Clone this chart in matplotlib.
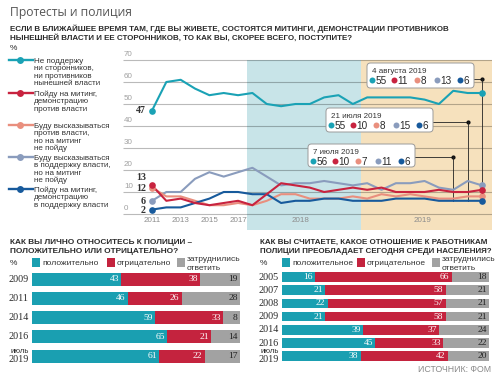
import matplotlib
matplotlib.use('Agg')
import matplotlib.pyplot as plt
from matplotlib.transforms import Affine2D
from matplotlib.patches import FancyBboxPatch, Rectangle
from matplotlib.lines import Line2D
from matplotlib import font_manager

# ---------------- data ----------------
legend_labels = [
    ["Не поддержу", "ни сторонников,", "ни противников", "нынешней власти"],
    ["Пойду на митинг,", "демонстрацию", "против власти"],
    ["Буду высказываться", "против власти,", "но на митинг", "не пойду"],
    ["Буду высказываться", "в поддержку власти,", "но на митинг", "не пойду"],
    ["Пойду на митинг,", "демонстрацию", "в поддержку власти"],
]
neutral       = [47, 60, 61, 57, 54, 55, 54, 55, 50, 49, 50, 50, 53, 54, 50, 53, 53, 53, 53, 52, 50, 56, 55, 55]
against_rally = [13, 6, 7, 5, 4, 5, 6, 4, 9, 14, 13, 12, 10, 11, 12, 11, 12, 10, 10, 10, 11, 10, 10, 11]
against_words = [12, 8, 8, 6, 4, 4, 5, 4, 6, 9, 9, 7, 7, 7, 8, 7, 9, 8, 9, 8, 7, 7, 8, 8]
support_words = [6, 10, 10, 16, 19, 17, 19, 21, 17, 13, 14, 14, 15, 14, 13, 14, 11, 14, 14, 15, 12, 11, 15, 13]
support_rally = [2, 3, 3, 5, 7, 10, 10, 9, 9, 5, 6, 6, 7, 7, 6, 6, 6, 7, 7, 7, 6, 6, 6, 6]
year_tick_idx = [0, 2, 4, 6]
year_tick_labels = ["2011", "2013", "2015", "2017"]
period_labels = ["2018", "2019"]
y_ticks = [0, 10, 20, 30, 40, 50, 60, 70]

note_dates = ["7 июля 2019", "21 июля 2019", "4 августа 2019"]

pol_years = ["2009", "2011", "2014", "2016", "июль\n2019"]
pol_pos = [43, 46, 59, 65, 61]
pol_neg = [38, 26, 33, 21, 22]
pol_unk = [19, 28, 8, 14, 17]

pop_years = ["2005", "2007", "2008", "2009", "2014", "2016", "июль\n2019"]
pop_pos = [16, 21, 22, 21, 39, 45, 38]
pop_neg = [66, 58, 57, 58, 37, 33, 42]
pop_unk = [18, 21, 21, 21, 24, 22, 20]

# ---------------- style ----------------
TEAL = "#1aa2b5"
RED = "#c8233f"
SALMON = "#e98f7e"
GREYBLUE = "#8a9cbd"
DARKBLUE = "#175a9c"
BAR_TEAL = "#1a9fb1"
BAR_RED = "#c4233e"
BAR_GRAY = "#a2a2a2"
SHADE_2018 = "#c8e4e8"
SHADE_2019 = "#f6e1bd"
TXT = "#2b2b2b"


def have(fam):
    try:
        font_manager.findfont(font_manager.FontProperties(family=fam), fallback_to_default=False)
        return True
    except Exception:
        return False


NARROW = "Liberation Sans Narrow" if have("Liberation Sans Narrow") else "Liberation Sans"
SANS = "Liberation Sans"
SERIF = "Liberation Serif"
LIGHT = "Open Sans" if have("Open Sans") else "DejaVu Sans"

W, H = 502, 380
fig = plt.figure(figsize=(W / 100, H / 100), dpi=100)
fig.patch.set_facecolor("white")
PX = Affine2D().scale(1 / W, -1 / H).translate(0, 1) + fig.transFigure
renderer = fig.canvas.get_renderer()


def rect(x0, y0, x1, y1):
    return [x0 / W, 1 - y1 / H, (x1 - x0) / W, (y1 - y0) / H]


def txt(x, y, s, size, color=TXT, ha="left", family=SANS, weight="normal", width=None, **kw):
    """y = visual centre of capitals (pixels from top)."""
    yb = y + 0.36 * size * 100 / 72
    t = fig.text(x, yb, s, transform=PX, fontsize=size, color=color, ha=ha, va="baseline",
                 family=family, fontweight=weight, **kw)
    if width is not None:
        w = t.get_window_extent(renderer).width
        size = size * width / w
        t.set_fontsize(size)
        t.set_y(y + 0.36 * size * 100 / 72)
    return t


# ---------------- headers ----------------
txt(10, 12, "Протесты и полиция", 9, color="#555555", family=LIGHT, width=123)
t1 = txt(10, 28.5, "ЕСЛИ В БЛИЖАЙШЕЕ ВРЕМЯ ТАМ, ГДЕ ВЫ ЖИВЕТЕ, СОСТОЯТСЯ МИТИНГИ, ДЕМОНСТРАЦИИ ПРОТИВНИКОВ",
         6, family=NARROW, weight="bold", width=442)
fs_sub = t1.get_fontsize()
txt(10, 36.5, "НЫНЕШНЕЙ ВЛАСТИ И ЕЕ СТОРОННИКОВ, ТО КАК ВЫ, СКОРЕЕ ВСЕГО, ПОСТУПИТЕ?", fs_sub,
    family=NARROW, weight="bold")
txt(10, 47, "%", 6, family=SANS)

# ---------------- line chart ----------------
ax = fig.add_axes(rect(123, 214 - 70.5 * 2.2, 492, 230.06))
ax.set_xlim(-2.02, 23.7)
ax.set_ylim(-7.3, 70.5)
ax.axis("off")

p2018, p2019 = 6.6, 14.56
ax.add_patch(Rectangle((p2018, -7.3), p2019 - p2018, 77.3, fc=SHADE_2018, ec="none", zorder=0))
ax.add_patch(Rectangle((p2019, -7.3), 23.7 - p2019, 77.3, fc=SHADE_2019, ec="none", zorder=0))
ax.hlines(y_ticks, -2.02, 23.7, color="black", alpha=0.27, lw=0.8, zorder=1)
for v in y_ticks:
    ax.text(-1.95, v + 0.7, str(v), ha="left", va="bottom", fontsize=5.8, color="#a0a0a0",
            family=NARROW, zorder=2)
for i, lab in zip(year_tick_idx, year_tick_labels):
    ax.text(i, -2.9, lab, ha="center", va="center", fontsize=5.8, color="#8c8c8c", family=NARROW)
ax.text((p2018 + p2019) / 2 - 0.25, -2.9, period_labels[0], ha="center", va="center",
        fontsize=5.8, color="#8c8c8c", family=NARROW)
ax.text((p2019 + 23.7) / 2 - 0.3, -2.9, period_labels[1], ha="center", va="center",
        fontsize=5.8, color="#8c8c8c", family=NARROW)

series = [
    (support_words, GREYBLUE),
    (against_words, SALMON),
    (support_rally, DARKBLUE),
    (against_rally, RED),
    (neutral, TEAL),
]
xs = list(range(len(neutral)))
for vals, col in series:
    ax.plot(xs, vals, color=col, lw=1.5, solid_joinstyle="round", zorder=3)
    ax.plot([xs[0]], [vals[0]], "o", color=col, ms=4.8, mec="none", zorder=4)
    ax.plot([xs[-1]], [vals[-1]], "o", color=col, ms=4.8, mec="none", zorder=4)

# start labels
start_lab = [(neutral[0], 0.0), (against_rally[0], 3.8), (against_words[0], -0.6),
             (support_words[0], -0.5), (support_rally[0], -0.6)]
for v, dy in start_lab:
    ax.text(-0.42, v + dy, str(v), ha="right", va="center", fontsize=7.2, fontweight="bold",
            color="#333333", family=SERIF, zorder=5)

# ---------------- notes ----------------
inv = ax.transData.inverted()


def px2data(x, y):
    return inv.transform((x, H - y))


note_boxes = [  # x0, y0, x1, y1, connector y
    (308, 144, 415, 167, 157),
    (326, 108, 433, 132, 122),
    (367, 63, 474, 88, 79),
]
cols5 = [TEAL, RED, SALMON, GREYBLUE, DARKBLUE]
all_series = [neutral, against_rally, against_words, support_words, support_rally]
dot_offsets = [5, 27, 50, 70, 93]
n = len(neutral)
for k, (date, (x0, y0, x1, y1, yc)) in enumerate(zip(note_dates, note_boxes)):
    idx = n - 3 + k
    box = FancyBboxPatch((x0, y0), x1 - x0, y1 - y0, boxstyle="round,pad=0,rounding_size=3.5",
                         transform=PX, fc="white", ec="#9b9b9b", lw=0.7, zorder=6)
    fig.add_artist(box)
    txt(x0 + 5, y0 + 7, date, 5.8, color="#333333", family=SANS, zorder=7)
    for off, col, s in zip(dot_offsets, cols5, all_series):
        fig.add_artist(Line2D([x0 + off], [y0 + 17], transform=PX, marker="o", ms=4.3, color=col,
                              mec="none", zorder=7))
        txt(x0 + off + 3.5, y0 + 17, str(s[idx]), 7.2, color="#2a2a2a", family=NARROW, zorder=7)
    # connector
    bx, byc = px2data(x1, yc)
    ax.plot([bx, idx], [byc, byc], color="#222222", lw=0.6, zorder=2)
    ax.plot([idx], [byc], "o", color="#111111", ms=2.0, zorder=2)
    ax.plot([idx, idx], [min(v[idx] for v in all_series), byc], color="#222222", lw=0.6, zorder=2)

# ---------------- left legend ----------------
leg_y = [60, 93, 125, 157, 189]
leg_cols = [TEAL, RED, SALMON, GREYBLUE, DARKBLUE]
for lines, y, col in zip(legend_labels, leg_y, leg_cols):
    fig.add_artist(Line2D([9, 33], [y, y], transform=PX, color=col, lw=1.7))
    fig.add_artist(Line2D([20], [y], transform=PX, color=col, marker="o", ms=5.0, mec="none"))
    for j, s in enumerate(lines):
        txt(34, y + j * 7.4, s, 5.75, color="#333333", family=SANS)


# ---------------- bar charts ----------------
def bar_panel(x0, x1, y_first, spacing, height_px, years, pos, neg, unk, tx, title, leg_names, leg_x):
    nrow = len(years)
    top = y_first - spacing / 2
    bottom = y_first + (nrow - 0.5) * spacing
    a = fig.add_axes(rect(x0, top, x1, bottom))
    a.set_xlim(0, 100)
    a.set_ylim(nrow - 0.5, -0.5)
    a.axis("off")
    idx = list(range(nrow))
    hh = height_px / spacing
    left2 = [p + q for p, q in zip(pos, neg)]
    a.barh(idx, pos, height=hh, color=BAR_TEAL, lw=0)
    a.barh(idx, neg, left=pos, height=hh, color=BAR_RED, lw=0)
    a.barh(idx, unk, left=left2, height=hh, color=BAR_GRAY, lw=0)
    upx = 100 / (x1 - x0)
    for i in idx:
        a.text(pos[i] - 2.2 * upx, i, str(pos[i]), ha="right", va="center", color="white",
               fontsize=6.8, family=SERIF)
        a.text(left2[i] - 2.2 * upx, i, str(neg[i]), ha="right", va="center", color="white",
               fontsize=6.8, family=SERIF)
        a.text(100 - 2.2 * upx, i, str(unk[i]), ha="right", va="center", color="#222222",
               fontsize=6.8, family=SERIF)
        ylab = years[i]
        if "\n" in ylab:
            w1, w2 = ylab.split("\n")
            a.text(-3 * upx, i - 4.5 / spacing, w1, ha="right", va="center", fontsize=5.6,
                   family=SANS, color=TXT)
            a.text(-3 * upx, i + 3.5 / spacing, w2, ha="right", va="center", fontsize=7.3,
                   family=SERIF, color=TXT)
        else:
            a.text(-3 * upx, i, ylab, ha="right", va="center", fontsize=7.3, family=SERIF, color=TXT)
    # title
    t = txt(tx, 241, title[0], 6.5, family=NARROW, weight="bold", width=title[2])
    txt(tx, 250, title[1], t.get_fontsize(), family=NARROW, weight="bold")
    # legend
    txt(tx, 262, "%", 6, family=SANS)
    for (name, col, lx) in zip(leg_names, [BAR_TEAL, BAR_RED, BAR_GRAY], leg_x):
        fig.add_artist(Rectangle((lx, 258), 8, 9, transform=PX, fc=col, ec="none"))
        parts = name.split("\n")
        if len(parts) == 1:
            txt(lx + 10, 262, parts[0], 6, color="#333333", family=SANS)
        else:
            txt(lx + 10, 258, parts[0], 6, color="#333333", family=SANS)
            txt(lx + 10, 267, parts[1], 6, color="#333333", family=SANS)
    return a


bar_panel(32, 240, 279, 19.25, 13, pol_years, pol_pos, pol_neg, pol_unk, 10,
          ("КАК ВЫ ЛИЧНО ОТНОСИТЕСЬ К ПОЛИЦИИ –", "ПОЛОЖИТЕЛЬНО ИЛИ ОТРИЦАТЕЛЬНО?", 183),
          ["положительно", "отрицательно", "затруднились\nответить"], [32, 107, 177])
bar_panel(282, 489, 277, 13.2, 9.5, pop_years, pop_pos, pop_neg, pop_unk, 260,
          ("КАК ВЫ СЧИТАЕТЕ, КАКОЕ ОТНОШЕНИЕ К РАБОТНИКАМ", "ПОЛИЦИИ ПРЕОБЛАДАЕТ СЕГОДНЯ СРЕДИ НАСЕЛЕНИЯ?", 227),
          ["положительное", "отрицательное", "затруднились\nответить"], [282, 357, 432])

txt(491, 369, "ИСТОЧНИК: ФОМ", 6.3, color="#8a8a8a", ha="right", family=SANS)

fig.savefig("out.png", dpi=100, facecolor="white")
